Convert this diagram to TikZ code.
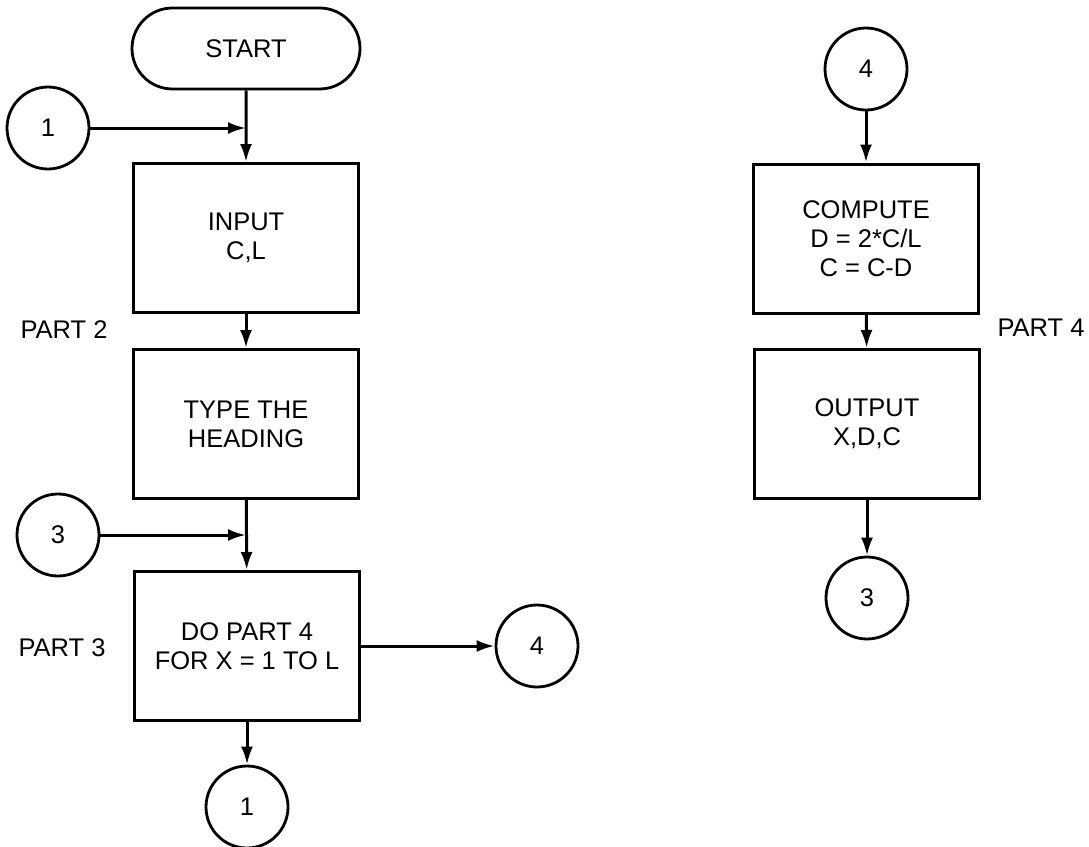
\documentclass[tikz,border=0pt]{standalone}
\usepackage{fontspec}
\setmainfont{Liberation Sans}
\usetikzlibrary{shapes.misc,arrows.meta}
\begin{document}
\begin{tikzpicture}[x=1pt,y=-1pt,
  every node/.style={font=\fontsize{25.5}{29}\selectfont, align=center, inner sep=0pt},
  boxnode/.style={draw, line width=3pt, minimum width=225pt, minimum height=149pt},
  termnode/.style={draw, line width=2.8pt, rounded rectangle, minimum width=228pt, minimum height=81pt},
  conn/.style={draw, circle, line width=2.8pt, minimum size=82pt},
  arr/.style={line width=3pt, -{Latex[length=18pt,width=12pt]}}]
\useasboundingbox (0,0) rectangle (1089,846);
% left column
\node[termnode] (start) at (246,48.5) {START};
\node[conn] (c1) at (48,128) {1};
\coordinate (j1) at (246,128);
\node[boxnode] (input) at (246,238) {INPUT\\C,L};
\node (p2) at (64,330) {PART 2};
\node[boxnode] (type) at (246,424) {TYPE THE\\HEADING};
\node[conn] (c3) at (58,535) {3};
\coordinate (j3) at (246,535);
\node[boxnode] (do) at (247,646) {DO PART 4\\FOR X = 1 TO L};
\node (p3) at (62,648) {PART 3};
\node[conn] (c4) at (537,646) {4};
\node[conn] (c1b) at (247,807) {1};
% right column
\node[conn] (c4b) at (866,69) {4};
\node[boxnode] (comp) at (866,238.5) {COMPUTE\\D = 2*C/L\\C = C-D};
\node (p4) at (1041,328) {PART 4};
\node[boxnode] (out) at (867,424) {OUTPUT\\X,D,C};
\node[conn] (c3b) at (867,598) {3};
% connectors
\draw[arr] (start) -- (input);
\draw[arr] (c1) -- (j1);
\draw[arr] (input) -- (type);
\draw[arr] (type) -- (do);
\draw[arr] (c3) -- (j3);
\draw[arr] (do) -- (c4);
\draw[arr] (do) -- (c1b);
\draw[arr] (c4b) -- (comp);
\draw[arr] (comp) -- (out);
\draw[arr] (out) -- (c3b);
\end{tikzpicture}
\end{document}
